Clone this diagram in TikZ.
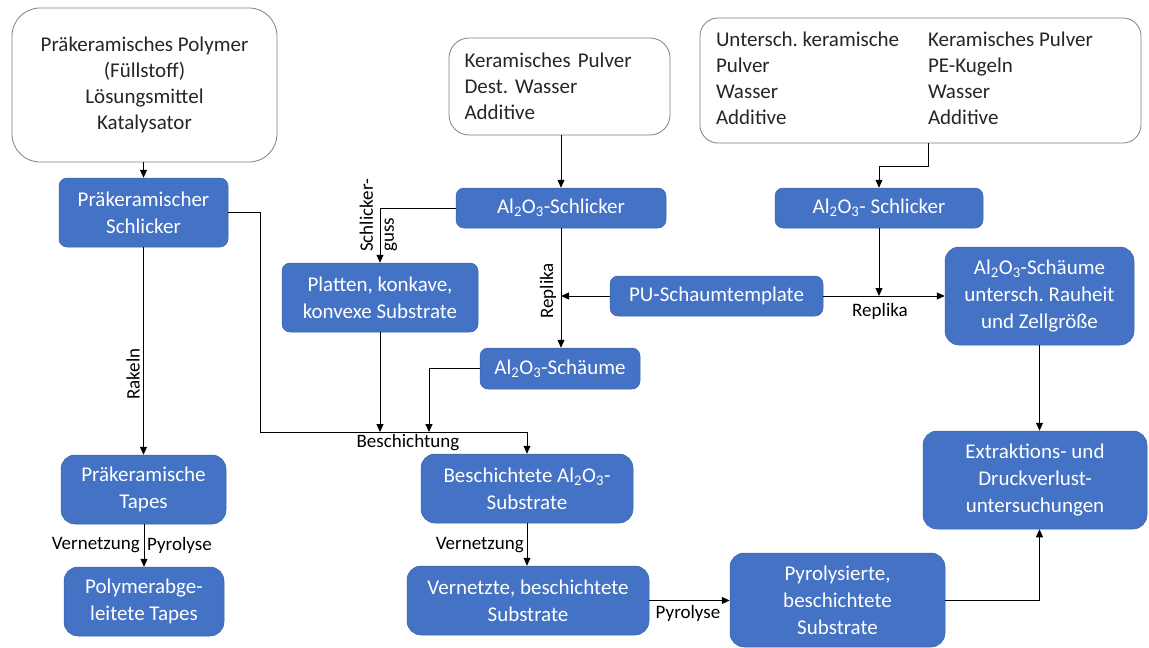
\documentclass[tikz,border=0pt]{standalone}
\usepackage{fontspec}
\setmainfont{Carlito}
\usepackage{xcolor}
\usepackage{tikz}
\usetikzlibrary{arrows.meta}
\definecolor{officeblue}{HTML}{4472C4}
\definecolor{inktext}{HTML}{262626}
\newcommand{\alo}{Al\textsubscript{2}O\textsubscript{3}}
\frenchspacing

\begin{document}
\begin{tikzpicture}[x=1pt, y=-1pt,
    src/.style={draw=black!50, line width=0.8pt, rounded corners=20pt, fill=white,
                text=inktext, inner sep=0pt, font=\fontsize{21}{26}\selectfont},
    stage/.style={draw=officeblue!85!black, line width=0.5pt, fill=officeblue,
                  rounded corners=8pt, text=white, align=center, inner sep=0pt,
                  font=\fontsize{21}{27}\selectfont},
    big/.style={rounded corners=14pt},
    lbl/.style={font=\fontsize{19}{21}\selectfont, text=black, inner sep=1pt},
    flow/.style={-{Triangle[length=8pt, width=7pt]}, line width=0.9pt}]
  \useasboundingbox (0,0) rectangle (1149,648);
  \node[src, rounded corners=28pt, align=center, minimum width=265, minimum height=154]
        (poly) at (144.5,85) {Präkeramisches Polymer\\(Füllstoff)\\Lösungsmittel\\Katalysator};
  \node[src, align=left, text width=190pt, minimum width=221, minimum height=97]
        (powm) at (559.5,86.5) {Keramisches Pulver\\Dest. Wasser\\Additive};
  \node[src, rounded corners=18pt, minimum width=441, minimum height=125] (powr) at (920.5,80.5)
        {\begin{tabular}{@{}p{212pt}@{}p{197pt}@{}}
           Untersch. keramische & Keramisches Pulver\\
           Pulver & PE-Kugeln\\
           Wasser & Wasser\\
           Additive & Additive
         \end{tabular}};
  \node[stage, minimum width=169, minimum height=69] (pslip) at (143.5,212.5) {Präkeramischer\\Schlicker};
  \node[stage, minimum width=210, minimum height=40] (slipm) at (561,208) {\alo-Schlicker};
  \node[stage, minimum width=208, minimum height=40] (slipr) at (879,208) {\alo- Schlicker};
  \node[stage, minimum width=196, minimum height=69] (platten) at (380,297.5) {Platten, konkave,\\konvexe Substrate};
  \node[stage, minimum width=213, minimum height=40] (pu) at (716.5,296) {PU-Schaumtemplate};
  \node[stage, big, minimum width=189, minimum height=98] (foamr) at (1039.5,296)
        {\alo-Schäume\\untersch. Rauheit\\und Zellgröße};
  \node[stage, minimum width=160, minimum height=41] (foamm) at (560,368.5) {\alo-Schäume};
  \node[stage, big, minimum width=224, minimum height=98] (extr) at (1035,480)
        {Extraktions- und\\Druckverlust-\\untersuchungen};
  \node[stage, big, minimum width=165, minimum height=69] (tapes) at (143.5,489.5) {Präkeramische\\Tapes};
  \node[stage, big, minimum width=212, minimum height=69] (besch) at (527,488.5) {Beschichtete \alo-\\Substrate};
  \node[stage, big, minimum width=160, minimum height=69] (polyt) at (144,601.5) {Polymerabge-\\leitete Tapes};
  \node[stage, big, minimum width=242, minimum height=69] (vern) at (528,600.5) {Vernetzte, beschichtete\\Substrate};
  \node[stage, big, minimum width=215, minimum height=94] (pyro) at (837.5,600) {Pyrolysierte,\\beschichtete\\Substrate};
  \coordinate (cA) at (381,432);
  \coordinate (cB) at (429,432);

  \draw[flow] (pslip.north |- poly.south) -- (pslip.north);
  \draw[flow] (pslip.south) -- (tapes.north);
  \node[lbl, rotate=90] (rak) at (133,374) {Rakeln};
  \draw[flow] (tapes.south) -- (polyt.north |- tapes.south) -- (polyt.north);
  \node[lbl, anchor=east] (vt) at (141,545) {Vernetzung};
  \node[lbl, anchor=west] (pt) at (146,545) {Pyrolyse};
  \draw[flow] (pslip.east) -- ++(32,0) |- (besch.north |- cA) -- (besch.north);
  \draw[flow] (slipm.north |- powm.south) -- (slipm.north);
  \draw[flow] (slipm.west) -| (platten.north);
  \node[lbl, rotate=90, align=left, anchor=west] (sg) at (378.5,253) {Schlicker-\\guss};
  \draw[flow] (slipm.south) -- (slipm.south |- foamm.north);
  \node[lbl, rotate=90] (rep1) at (548,291) {Replika};
  \draw[flow] (pu.west) -- (pu.west -| slipm.south);
  \draw[flow] (platten.south) -- (platten.south |- cA);
  \draw[flow] (foamm.west) -| (cB);
  \node[lbl] (coat) at (408,443) {Beschichtung};
  \draw[flow] ([xshift=8]powr.south) -- ++(0,23) -| (slipr.north);
  \draw[flow] (slipr.south) -- (slipr.south |- pu.east);
  \draw[flow] (pu.east) -- (foamr.west);
  \node[lbl] (rep2) at (880,311) {Replika};
  \draw[flow] (foamr.south) -- (foamr.south |- extr.north);
  \draw[flow] (besch.south) -- (besch.south |- vern.north);
  \node[lbl, anchor=east] (vb) at (525,545) {Vernetzung};
  \draw[flow] (vern.east) -- (pyro.west |- vern.east);
  \node[lbl] (pb) at (688,613) {Pyrolyse};
  \draw[flow] (pyro.east) -| (foamr.south |- extr.south);
\end{tikzpicture}
\end{document}
